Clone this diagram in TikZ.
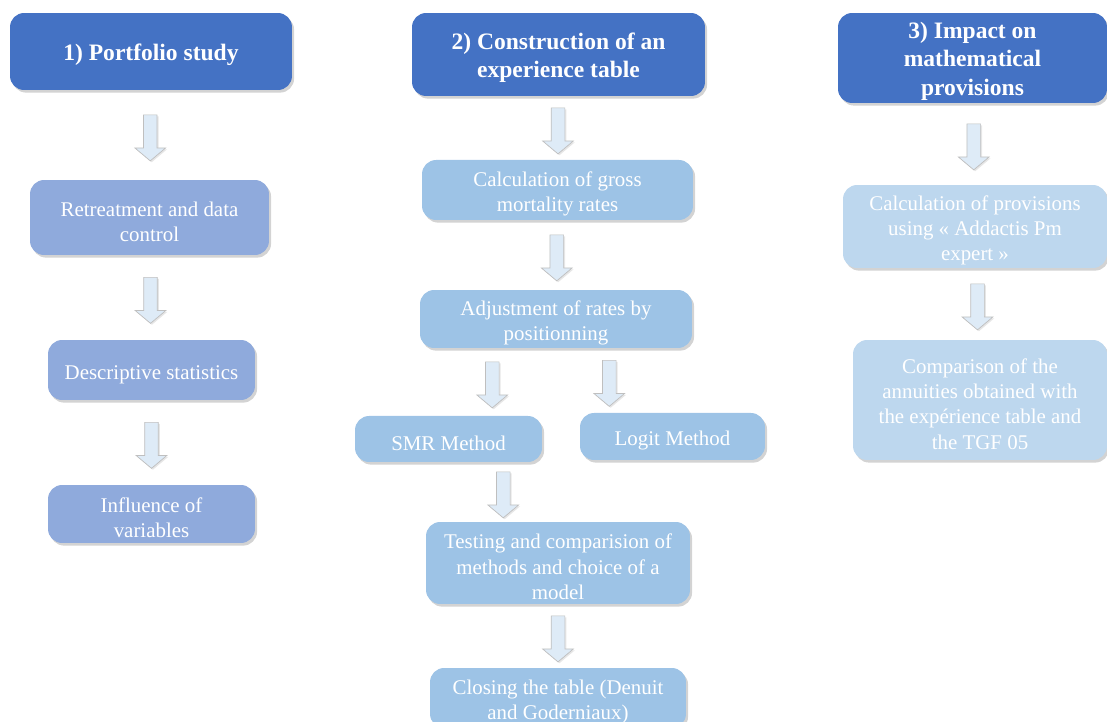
\documentclass[tikz,border=0pt]{standalone}
\usepackage{fontspec}
\setmainfont{Liberation Serif}
\usepackage{tikz}
\usetikzlibrary{positioning,calc,shapes.arrows,shadows}
\definecolor{headblue}{HTML}{4472C4}
\definecolor{studyblue}{HTML}{8FAADC}
\definecolor{tableblue}{HTML}{9DC3E6}
\definecolor{provblue}{HTML}{BDD7EE}
\definecolor{arrowblue}{HTML}{DEEBF7}
\tikzset{every stage/.style={rounded corners=8pt, text=white, align=flush center,
  inner xsep=3pt, inner ysep=0.5pt, execute at begin node={\rule{0pt}{12.9pt}},
  drop shadow={opacity=0.35, shadow xshift=1.2pt, shadow yshift=-1.5pt}}}
\tikzset{stagehead/.style={every stage, fill=headblue, font=\fontsize{13.4}{16.2}\selectfont\bfseries}}
\tikzset{studybox/.style={every stage, fill=studyblue, font=\fontsize{11.9}{14.4}\selectfont}}
\tikzset{tablebox/.style={every stage, fill=tableblue, font=\fontsize{11.9}{14.4}\selectfont}}
\tikzset{provbox/.style={every stage, fill=provblue, font=\fontsize{11.9}{14.4}\selectfont}}
\tikzset{downarrow/.style={single arrow, shape border rotate=270, fill=arrowblue, draw=black!25,
  line width=0.4pt, inner sep=0.13cm, minimum height=0.92cm, minimum width=0.6cm,
  single arrow head extend=0.17cm, single arrow tip angle=100,
  drop shadow={opacity=0.2, shadow xshift=0.8pt, shadow yshift=-0.8pt}}}

\begin{document}
\begin{tikzpicture}[x=0.02cm,y=-0.02cm]
  \useasboundingbox (0,0) rectangle (1107,722);
  % The three headings
  \node[stagehead, minimum width=5.64cm, minimum height=1.54cm, text width=5cm] (port) at (151,51.5) {1) Portfolio study};
  \node[stagehead, minimum width=5.86cm, minimum height=1.66cm, text width=5.2cm] (exper) at (558.5,54.5) {2) Construction of an experience table};
  \node[stagehead, minimum width=5.38cm, minimum height=1.8cm, text width=3.4cm] (impact) at (972.5,58) {3) Impact on mathematical provisions};

  % Portfolio study
  \node[studybox, minimum width=4.78cm, minimum height=1.5cm, text width=4.3cm] (retreat) at (149.5,217.5) {Retreatment and data control};
  \node[studybox, minimum width=4.14cm, minimum height=1.2cm, text width=3.9cm] (descr) at (151.5,370) {Descriptive statistics};
  \node[studybox, minimum width=4.14cm, minimum height=1.16cm, text width=3cm] (influ) at (151.5,514) {Influence of variables};

  % Experience table
  \node[tablebox, minimum width=5.42cm, minimum height=1.2cm, text width=4.6cm] (gross) at (557.5,190) {Calculation of gross mortality rates};
  \node[tablebox, minimum width=5.44cm, minimum height=1.16cm, text width=4.6cm] (adjust) at (556,319) {Adjustment of rates by positionning};
  \node[tablebox, minimum width=3.74cm, minimum height=0.92cm, text width=3.4cm] (smr) at (448.5,439) {SMR Method};
  \node[tablebox, minimum width=3.7cm, minimum height=0.94cm, text width=3.4cm] (logit) at (672.5,436.5) {Logit Method};
  \node[tablebox, minimum width=5.28cm, minimum height=1.64cm, text width=5cm] (testing) at (558,563) {Testing and comparision of methods and choice of a model};
  \node[tablebox, minimum width=5.12cm, minimum height=1.2cm, text width=4.8cm] (closing) at (558,698) {Closing the table (Denuit and Goderniaux)};

  % Provisions
  \node[provbox, minimum width=5.28cm, minimum height=1.66cm, text width=4.7cm] (calcprov) at (975,226.5) {Calculation of provisions using «~Addactis Pm expert~»};
  \node[provbox, minimum width=5.08cm, minimum height=2.4cm, text width=4.25cm] (compar) at (980,400) {Comparison of the annuities obtained with the expérience table and the TGF 05};

  % Block arrows between the stages
  \node[downarrow] (a1) at ($(port.south)!0.5!(retreat.north)$) {};
  \node[downarrow] (a2) at ($(retreat.south)!0.5!(descr.north)$) {};
  \node[downarrow] (a3) at ($(descr.south)!0.5!(influ.north)$) {};
  \node[downarrow] (b1) at ($(exper.south)!0.5!(gross.north)$) {};
  \node[downarrow] (b2) at ($(gross.south)!0.5!(adjust.north)$) {};
  \node[downarrow, xshift=-0.2cm] (b3) at ($(adjust.south)!0.5!(smr.north)$) {};
  \node[downarrow, xshift=-0.1cm] (b4) at ($(adjust.south)!0.5!(logit.north)$) {};
  \node[downarrow] (b5) at ($(smr.south)!0.5!(testing.north)$) {};
  \node[downarrow] (b6) at ($(testing.south)!0.5!(closing.north)$) {};
  \node[downarrow] (c1) at ($(impact.south)!0.5!(calcprov.north)$) {};
  \node[downarrow] (c2) at ($(calcprov.south)!0.5!(compar.north)$) {};
\end{tikzpicture}
\end{document}
